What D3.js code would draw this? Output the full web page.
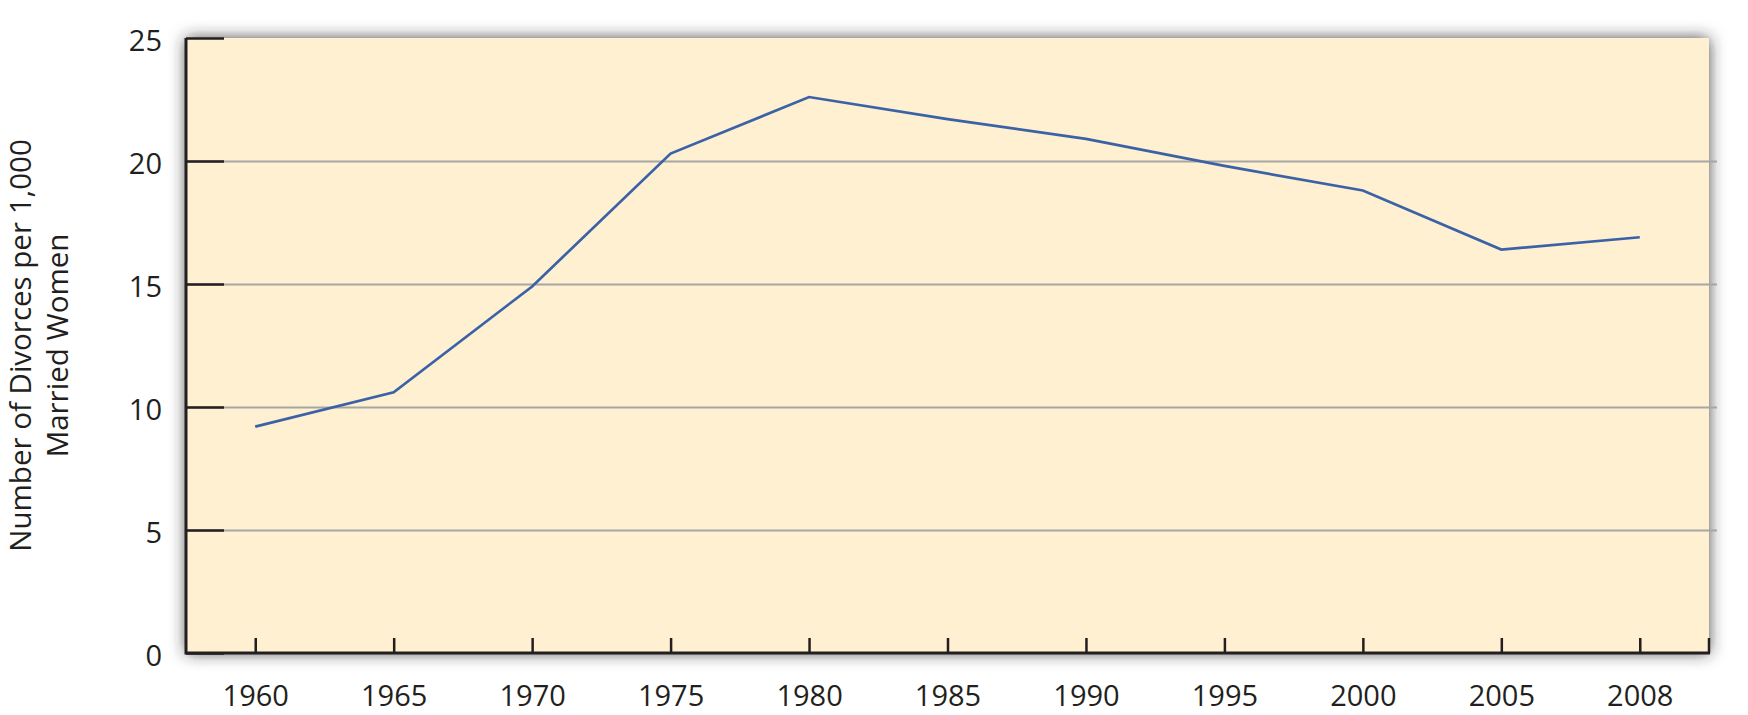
<!DOCTYPE html>
<html>
<head>
<meta charset="utf-8">
<script src="https://cdn.jsdelivr.net/npm/d3@7"></script>
<style>
  html, body { margin: 0; padding: 0; background: #ffffff; }
  svg { display: block; }
  text { font-family: "Open Sans", "Noto Sans", sans-serif; fill: #231f20; }
</style>
</head>
<body>
<svg id="chart" width="1748" height="715"></svg>
<script>
// ---- data ----
const years = ["1960", "1965", "1970", "1975", "1980", "1985", "1990", "1995", "2000", "2005", "2008"];
const divorces = [9.2, 10.6, 14.9, 20.3, 22.6, 21.7, 20.9, 19.8, 18.8, 16.4, 16.9];
const yTicks = [0, 5, 10, 15, 20, 25];
const yLabelLines = ["Number of Divorces per 1,000", "Married Women"];

// ---- layout ----
const W = 1748, H = 715;
const pLeft = 186, pRight = 1709, pTop = 38, pBottom = 653;

const svg = d3.select("#chart");

const defs = svg.append("defs");
const filt = defs.append("filter").attr("id", "shadow")
  .attr("x", "-5%").attr("y", "-10%").attr("width", "110%").attr("height", "120%");
filt.append("feDropShadow").attr("dx", 0).attr("dy", 0)
  .attr("stdDeviation", 8).attr("flood-color", "#2a2a2a").attr("flood-opacity", 0.85);

const x = d3.scalePoint().domain(years).range([pLeft, pRight]).padding(0.5);
const y = d3.scaleLinear().domain([0, 25]).range([pBottom, pTop]);

// plot background with shadow
svg.append("rect")
  .attr("x", pLeft).attr("y", pTop)
  .attr("width", pRight - pLeft).attr("height", pBottom - pTop)
  .attr("fill", "#fef0d1")
  .attr("filter", "url(#shadow)");

// gridlines
const grid = svg.append("g")
  .attr("transform", `translate(${pLeft},0)`)
  .call(d3.axisRight(y).tickValues(yTicks.filter(v => v > 0 && v < 25))
    .tickSize(pRight - pLeft + 8).tickFormat(""));
grid.select(".domain").remove();
grid.selectAll(".tick line").attr("stroke", "#a6a6a6").attr("stroke-width", 2);

// y ticks (inward, black)
const yTickG = svg.append("g")
  .attr("transform", `translate(${pLeft},0)`)
  .call(d3.axisRight(y).tickValues(yTicks).tickSize(38).tickFormat(""));
yTickG.select(".domain").remove();
yTickG.selectAll(".tick line").attr("stroke", "#231f20").attr("stroke-width", 2.5);

// y labels
const yLab = svg.append("g")
  .attr("transform", `translate(${pLeft},3)`)
  .call(d3.axisLeft(y).tickValues(yTicks).tickSize(0).tickPadding(24));
yLab.select(".domain").remove();
yLab.selectAll("text").attr("font-size", 29).attr("fill", "#231f20")
  .style("font-family", "'Open Sans', sans-serif");

// line
const line = d3.line()
  .x((d, i) => x(years[i]))
  .y(d => y(d));
svg.append("path")
  .datum(divorces)
  .attr("d", line)
  .attr("fill", "none")
  .attr("stroke", "#3b62a6")
  .attr("stroke-width", 2.7)
  .attr("stroke-linejoin", "miter");

// x axis
const xAxis = svg.append("g")
  .attr("transform", `translate(0,${pBottom})`)
  .call(d3.axisBottom(x).tickSize(-15).tickPadding(32));
xAxis.select(".domain").remove();
xAxis.selectAll(".tick line").attr("stroke", "#231f20").attr("stroke-width", 2.5);
xAxis.selectAll("text").attr("font-size", 29).attr("fill", "#231f20")
  .style("font-family", "'Open Sans', sans-serif");

// right end tick
svg.append("line")
  .attr("x1", pRight).attr("x2", pRight)
  .attr("y1", pBottom).attr("y2", pBottom - 15)
  .attr("stroke", "#231f20").attr("stroke-width", 2.5);

// axis lines (left & bottom)
svg.append("path")
  .attr("d", d3.line()([[pLeft, pTop], [pLeft, pBottom], [pRight + 1, pBottom]]))
  .attr("fill", "none")
  .attr("stroke", "#231f20")
  .attr("stroke-width", 3);

// y axis title
const ty = svg.append("text")
  .attr("transform", `translate(31,${(pTop + pBottom) / 2}) rotate(-90)`)
  .attr("text-anchor", "middle")
  .attr("font-size", 29.5);
ty.selectAll("tspan").data(yLabelLines).join("tspan")
  .attr("x", 0)
  .attr("dy", (d, i) => i === 0 ? 0 : 37)
  .text(d => d);
</script>
</body>
</html>
